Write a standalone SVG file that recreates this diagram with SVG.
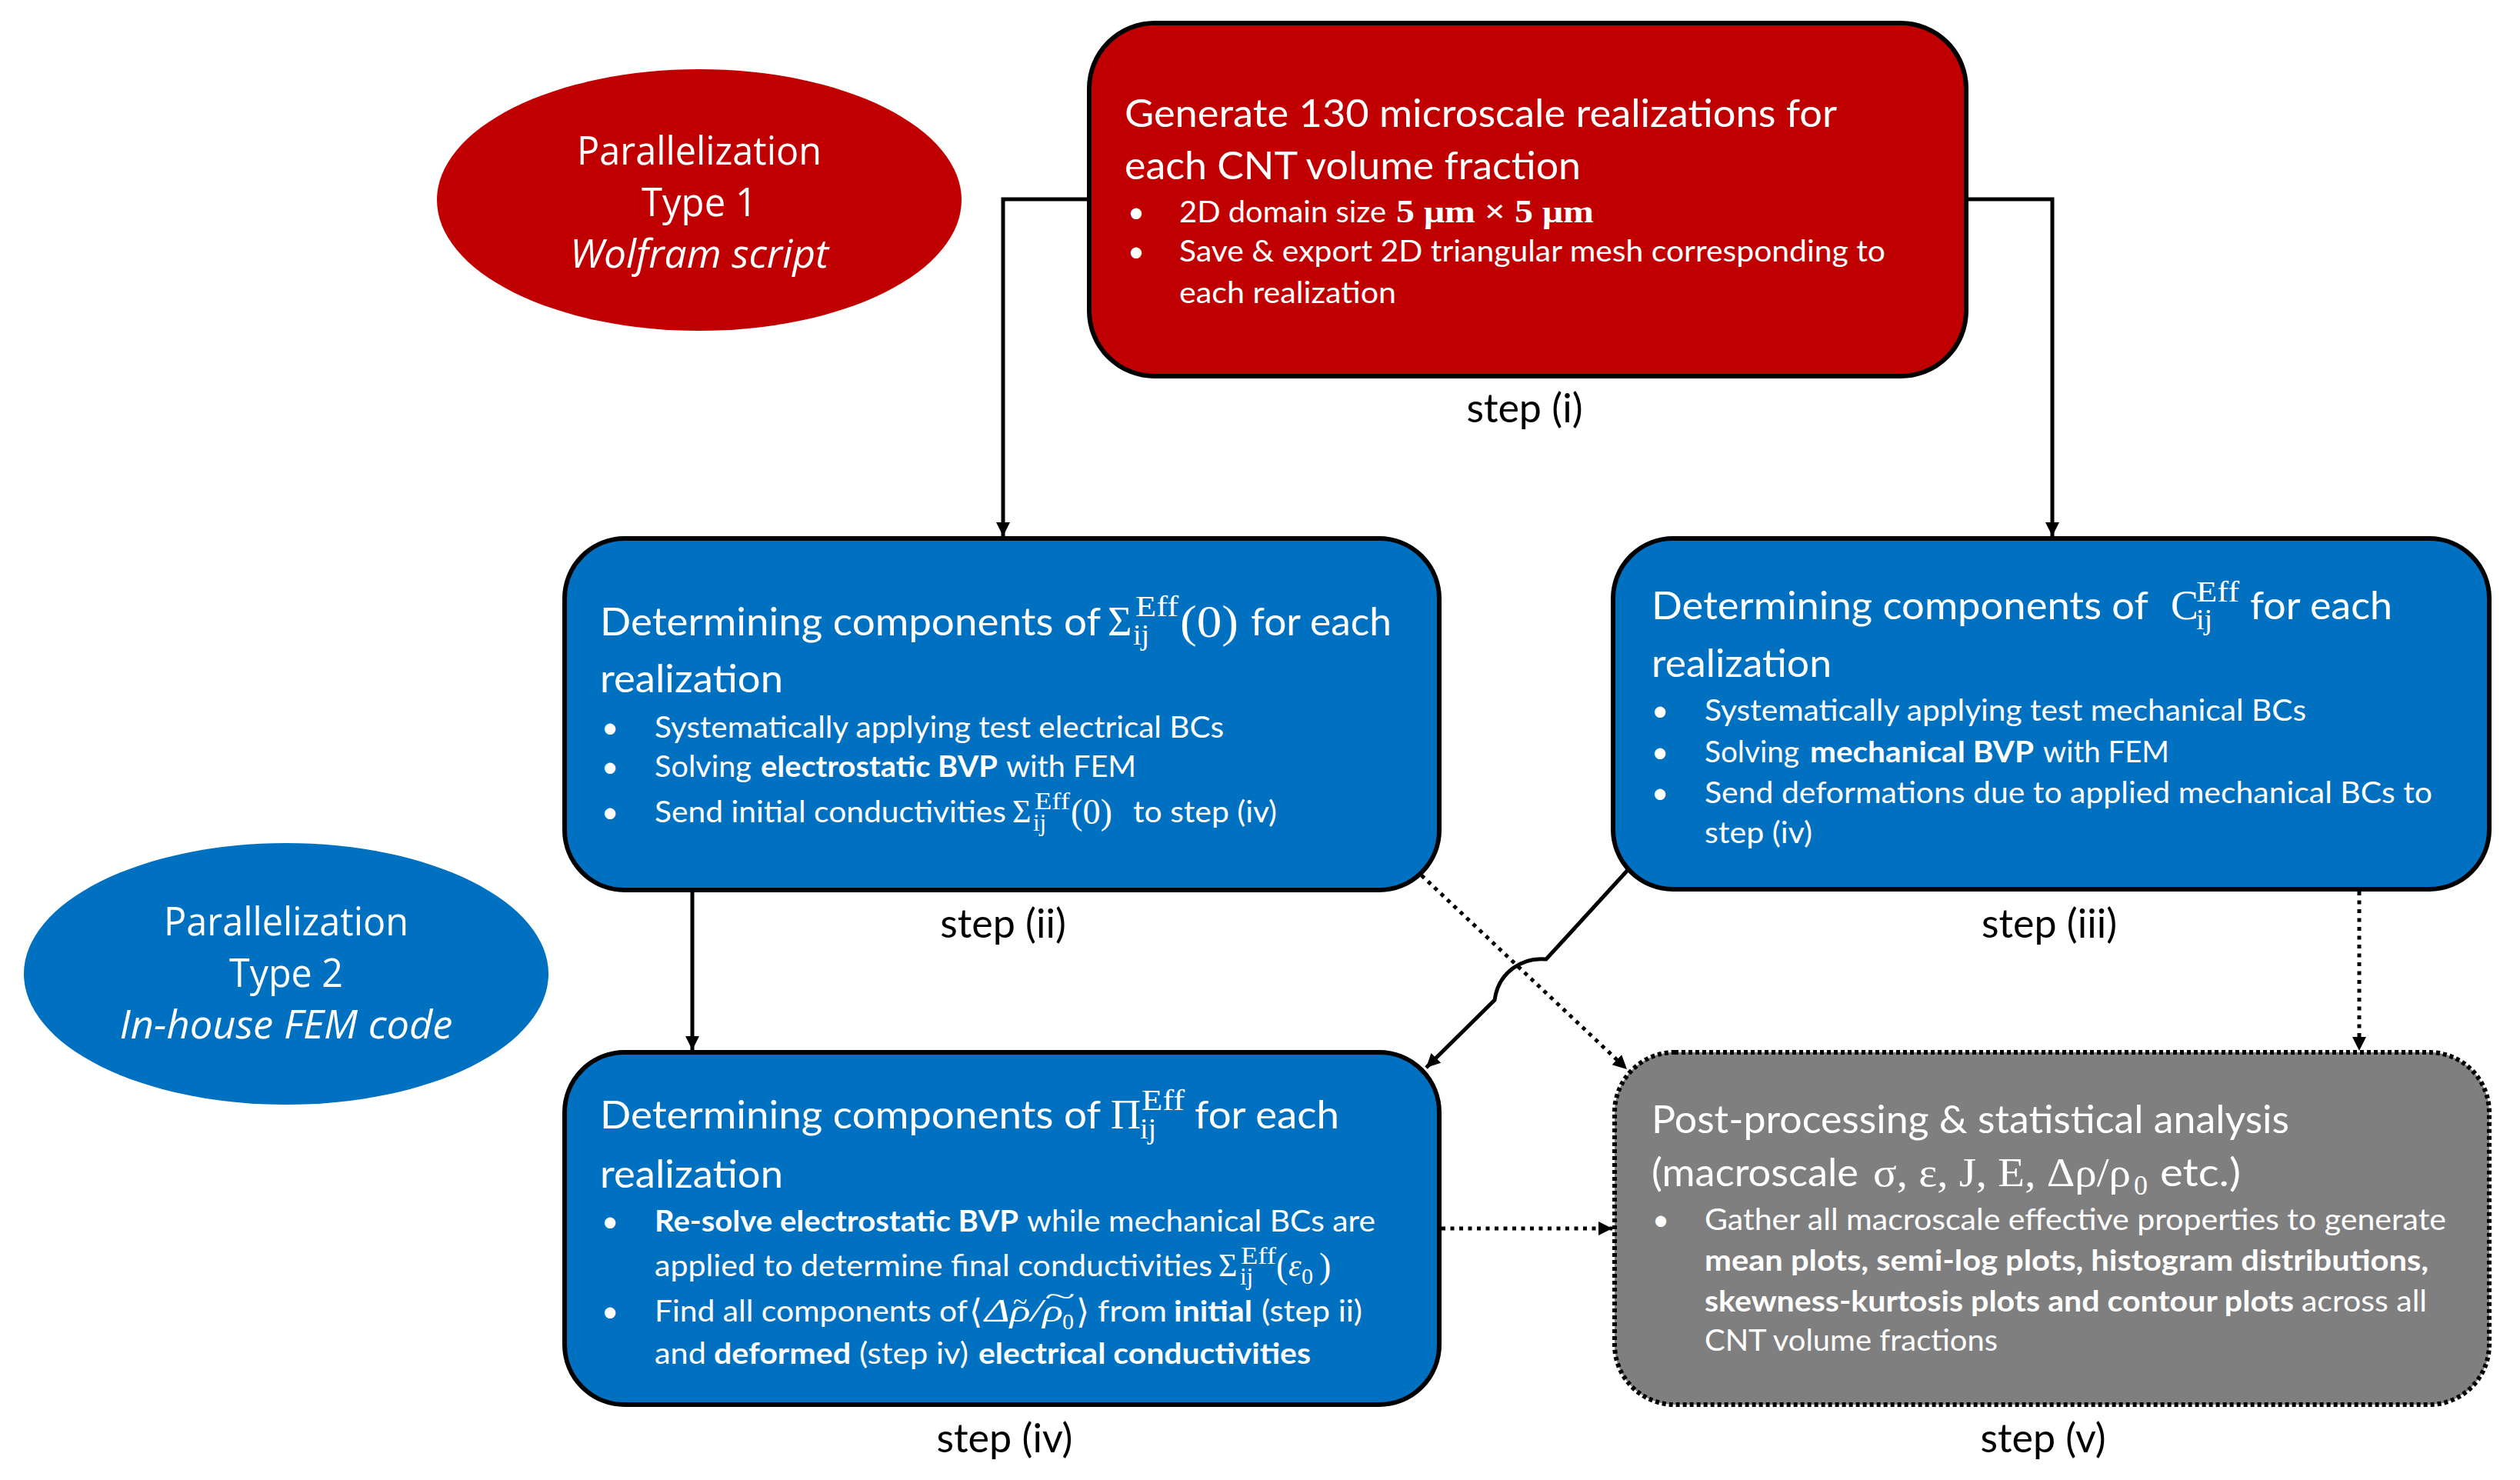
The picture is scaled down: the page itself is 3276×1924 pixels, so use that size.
<svg xmlns="http://www.w3.org/2000/svg" width="3276" height="1924" viewBox="0 0 3276 1924">
<style>
.t{font-family:Lato,"Open Sans",sans-serif;fill:#fff}
.tt{font-size:50px}
.tb{font-size:38px}
.b{font-weight:bold}
.m{font-family:"Liberation Serif","DejaVu Serif",serif;fill:#fff}
.lbl{font-family:Lato,"Open Sans",sans-serif;font-size:52px;fill:#000;text-anchor:middle}
.el{font-family:"Open Sans",sans-serif;font-size:52px;fill:#fff;text-anchor:middle}
.box{stroke:#000;stroke-width:6}
.conn{fill:none;stroke:#000;stroke-width:5}
.dot{stroke-dasharray:5 6.5}
</style>
<defs>
<marker id="ah" markerUnits="userSpaceOnUse" markerWidth="20" markerHeight="20" refX="18" refY="9" orient="auto">
<path d="M0,0 L18,9 L0,18 z" fill="#000"/>
</marker>
</defs>
<rect width="3276" height="1924" fill="#fff"/>

<g id="connectors">
<path class="conn" d="M1416,259 H1304 V697" marker-end="url(#ah)"/>
<path class="conn" d="M2556,259 H2668 V697" marker-end="url(#ah)"/>
<path class="conn" d="M900,1159 V1365" marker-end="url(#ah)"/>
<path class="conn" d="M2117,1130 L2010,1247 C1980,1244 1948,1263 1943,1300 L1854,1388" marker-end="url(#ah)"/>
<path class="conn dot" d="M1848,1138 L2115,1390" marker-end="url(#ah)"/>
<path class="conn dot" d="M3067,1159 V1366" marker-end="url(#ah)"/>
<path class="conn dot" d="M1874,1597 H2096" marker-end="url(#ah)"/>
</g>

<g id="ellipse-type1">
<ellipse cx="909" cy="260" rx="341" ry="170" fill="#C00000"/>
<text class="el" x="909" y="214" textLength="318" lengthAdjust="spacingAndGlyphs">Parallelization</text>
<text class="el" x="909" y="281" textLength="150" lengthAdjust="spacingAndGlyphs">Type 1</text>
<text class="el" x="909" y="348" font-style="italic" textLength="336" lengthAdjust="spacingAndGlyphs">Wolfram script</text>
</g>

<g id="ellipse-type2">
<ellipse cx="372" cy="1266" rx="341" ry="170" fill="#0070C0"/>
<text class="el" x="372" y="1216" textLength="318" lengthAdjust="spacingAndGlyphs">Parallelization</text>
<text class="el" x="372" y="1283" textLength="148" lengthAdjust="spacingAndGlyphs">Type 2</text>
<text class="el" x="372" y="1350" font-style="italic" textLength="433" lengthAdjust="spacingAndGlyphs">In-house FEM code</text>
</g>

<g id="step-i">
<rect class="box" x="1416" y="30" width="1140" height="459" rx="85" ry="85" fill="#C00000"/>
<text class="t tt" x="1462" y="165" textLength="926" lengthAdjust="spacingAndGlyphs">Generate 130 microscale realizations for</text>
<text class="t tt" x="1462" y="233" textLength="593" lengthAdjust="spacingAndGlyphs">each CNT volume fraction</text>
<text class="t tb" x="1466" y="289">•</text>
<text class="t tb" x="1533" y="289" textLength="269" lengthAdjust="spacingAndGlyphs">2D domain size</text>
<text class="m b" x="1815" y="289" font-size="42" textLength="257" lengthAdjust="spacingAndGlyphs">5 μm × 5 μm</text>
<text class="t tb" x="1466" y="340">•</text>
<text class="t tb" x="1533" y="340" textLength="918" lengthAdjust="spacingAndGlyphs">Save &amp; export 2D triangular mesh corresponding to</text>
<text class="t tb" x="1533" y="394" textLength="282" lengthAdjust="spacingAndGlyphs">each realization</text>
<text class="lbl" x="1982" y="549">step (i)</text>
</g>

<g id="step-ii">
<rect class="box" x="734" y="700" width="1137" height="457" rx="78" ry="78" fill="#0070C0"/>
<text class="t tt" x="780" y="826" textLength="651" lengthAdjust="spacingAndGlyphs">Determining components of</text>
<text class="m" x="1440" y="826" font-size="54">Σ</text>
<text class="m" x="1476" y="801" font-size="38" textLength="56" lengthAdjust="spacingAndGlyphs">Eff</text>
<text class="m" x="1473" y="838" font-size="38">ij</text>
<text class="m" x="1534" y="828" font-size="60" textLength="76" lengthAdjust="spacingAndGlyphs">(0)</text>
<text class="t tt" x="1626" y="826" textLength="183" lengthAdjust="spacingAndGlyphs">for each</text>
<text class="t tt" x="780" y="900" textLength="238" lengthAdjust="spacingAndGlyphs">realization</text>
<text class="t tb" x="782" y="959">•</text>
<text class="t tb" x="851" y="959" textLength="740" lengthAdjust="spacingAndGlyphs">Systematically applying test electrical BCs</text>
<text class="t tb" x="782" y="1010">•</text>
<text class="t tb" x="851" y="1010" textLength="126" lengthAdjust="spacingAndGlyphs">Solving</text>
<text class="t tb b" x="989" y="1010" textLength="308" lengthAdjust="spacingAndGlyphs">electrostatic BVP</text>
<text class="t tb" x="1308" y="1010" textLength="169" lengthAdjust="spacingAndGlyphs">with FEM</text>
<text class="t tb" x="782" y="1069">•</text>
<text class="t tb" x="851" y="1069" textLength="457" lengthAdjust="spacingAndGlyphs">Send initial conductivities</text>
<text class="m" x="1316" y="1069" font-size="42">Σ</text>
<text class="m" x="1345" y="1052" font-size="31" textLength="46" lengthAdjust="spacingAndGlyphs">Eff</text>
<text class="m" x="1343" y="1080" font-size="31">ij</text>
<text class="m" x="1392" y="1071" font-size="46" textLength="54" lengthAdjust="spacingAndGlyphs">(0)</text>
<text class="t tb" x="1473" y="1069" textLength="187" lengthAdjust="spacingAndGlyphs">to step (iv)</text>
<text class="lbl" x="1304" y="1219">step (ii)</text>
</g>

<g id="step-iii">
<rect class="box" x="2097" y="700" width="1139" height="456" rx="78" ry="78" fill="#0070C0"/>
<text class="t tt" x="2147" y="805" textLength="646" lengthAdjust="spacingAndGlyphs">Determining components of</text>
<text class="m" x="2822" y="805" font-size="54">C</text>
<text class="m" x="2855" y="782" font-size="38" textLength="56" lengthAdjust="spacingAndGlyphs">Eff</text>
<text class="m" x="2855" y="818" font-size="38">ij</text>
<text class="t tt" x="2925" y="805" textLength="185" lengthAdjust="spacingAndGlyphs">for each</text>
<text class="t tt" x="2147" y="880" textLength="234" lengthAdjust="spacingAndGlyphs">realization</text>
<text class="t tb" x="2147" y="937">•</text>
<text class="t tb" x="2216" y="937" textLength="782" lengthAdjust="spacingAndGlyphs">Systematically applying test mechanical BCs</text>
<text class="t tb" x="2147" y="991">•</text>
<text class="t tb" x="2216" y="991" textLength="123" lengthAdjust="spacingAndGlyphs">Solving</text>
<text class="t tb b" x="2353" y="991" textLength="291" lengthAdjust="spacingAndGlyphs">mechanical BVP</text>
<text class="t tb" x="2656" y="991" textLength="164" lengthAdjust="spacingAndGlyphs">with FEM</text>
<text class="t tb" x="2147" y="1044">•</text>
<text class="t tb" x="2216" y="1044" textLength="946" lengthAdjust="spacingAndGlyphs">Send deformations due to applied mechanical BCs to</text>
<text class="t tb" x="2216" y="1096" textLength="140" lengthAdjust="spacingAndGlyphs">step (iv)</text>
<text class="lbl" x="2664" y="1219">step (iii)</text>
</g>

<g id="step-iv">
<rect class="box" x="734" y="1368" width="1137" height="458" rx="78" ry="78" fill="#0070C0"/>
<text class="t tt" x="780" y="1467" textLength="651" lengthAdjust="spacingAndGlyphs">Determining components of</text>
<text class="m" x="1444" y="1467" font-size="54">Π</text>
<text class="m" x="1484" y="1443" font-size="38" textLength="56" lengthAdjust="spacingAndGlyphs">Eff</text>
<text class="m" x="1482" y="1480" font-size="38">ij</text>
<text class="t tt" x="1553" y="1467" textLength="188" lengthAdjust="spacingAndGlyphs">for each</text>
<text class="t tt" x="780" y="1544" textLength="238" lengthAdjust="spacingAndGlyphs">realization</text>
<text class="t tb" x="782" y="1601">•</text>
<text class="t tb b" x="851" y="1601" textLength="473" lengthAdjust="spacingAndGlyphs">Re-solve electrostatic BVP</text>
<text class="t tb" x="1335" y="1601" textLength="453" lengthAdjust="spacingAndGlyphs">while mechanical BCs are</text>
<text class="t tb" x="851" y="1659" textLength="725" lengthAdjust="spacingAndGlyphs">applied to determine final conductivities</text>
<text class="m" x="1584" y="1659" font-size="42">Σ</text>
<text class="m" x="1613" y="1643" font-size="31" textLength="46" lengthAdjust="spacingAndGlyphs">Eff</text>
<text class="m" x="1612" y="1670" font-size="31">ij</text>
<text class="m" x="1659" y="1661" font-size="46">(</text>
<text class="m" x="1675" y="1659" font-size="42" font-style="italic">ε</text>
<text class="m" x="1692" y="1669" font-size="30">0</text>
<text class="m" x="1715" y="1661" font-size="46">)</text>
<text class="t tb" x="782" y="1718">•</text>
<text class="t tb" x="851" y="1718" textLength="407" lengthAdjust="spacingAndGlyphs">Find all components of</text>
<text class="m" x="1260" y="1720" font-size="44">⟨</text>
<text class="m" x="1280" y="1718" font-size="42" font-style="italic" textLength="102" lengthAdjust="spacingAndGlyphs">Δρ/ρ</text>
<text class="m" x="1381" y="1728" font-size="30">0</text>
<text class="m" x="1317" y="1703" font-size="34">~</text>
<text class="m" x="1358" y="1696" font-size="34" textLength="40" lengthAdjust="spacingAndGlyphs">~</text>
<text class="m" x="1399" y="1720" font-size="44">⟩</text>
<text class="t tb" x="1427" y="1718" textLength="90" lengthAdjust="spacingAndGlyphs">from</text>
<text class="t tb b" x="1526" y="1718" textLength="102" lengthAdjust="spacingAndGlyphs">initial</text>
<text class="t tb" x="1640" y="1718" textLength="131" lengthAdjust="spacingAndGlyphs">(step ii)</text>
<text class="t tb" x="851" y="1773" textLength="67" lengthAdjust="spacingAndGlyphs">and</text>
<text class="t tb b" x="928" y="1773" textLength="178" lengthAdjust="spacingAndGlyphs">deformed</text>
<text class="t tb" x="1117" y="1773" textLength="142" lengthAdjust="spacingAndGlyphs">(step iv)</text>
<text class="t tb b" x="1272" y="1773" textLength="432" lengthAdjust="spacingAndGlyphs">electrical conductivities</text>
<text class="lbl" x="1306" y="1888">step (iv)</text>
</g>

<g id="step-v">
<rect class="box" x="2099" y="1368" width="1137" height="458" rx="78" ry="78" fill="#7F7F7F" stroke-width="5" style="stroke-dasharray:5 4"/>
<text class="t tt" x="2147" y="1473" textLength="829" lengthAdjust="spacingAndGlyphs">Post-processing &amp; statistical analysis</text>
<text class="t tt" x="2147" y="1542" textLength="269" lengthAdjust="spacingAndGlyphs">(macroscale</text>
<text class="m" x="2435" y="1542" font-size="52" textLength="335" lengthAdjust="spacingAndGlyphs">σ, ε, J, E, Δρ/ρ</text>
<text class="m" x="2774" y="1553" font-size="36">0</text>
<text class="t tt" x="2808" y="1542" textLength="105" lengthAdjust="spacingAndGlyphs">etc.)</text>
<text class="t tb" x="2148" y="1599">•</text>
<text class="t tb" x="2216" y="1599" textLength="964" lengthAdjust="spacingAndGlyphs">Gather all macroscale effective properties to generate</text>
<text class="t tb b" x="2216" y="1652" textLength="941" lengthAdjust="spacingAndGlyphs">mean plots, semi-log plots, histogram distributions,</text>
<text class="t tb b" x="2216" y="1705" textLength="766" lengthAdjust="spacingAndGlyphs">skewness-kurtosis plots and contour plots</text>
<text class="t tb" x="2992" y="1705" textLength="163" lengthAdjust="spacingAndGlyphs">across all</text>
<text class="t tb" x="2216" y="1756" textLength="381" lengthAdjust="spacingAndGlyphs">CNT volume fractions</text>
<text class="lbl" x="2656" y="1888">step (v)</text>
</g>
</svg>
